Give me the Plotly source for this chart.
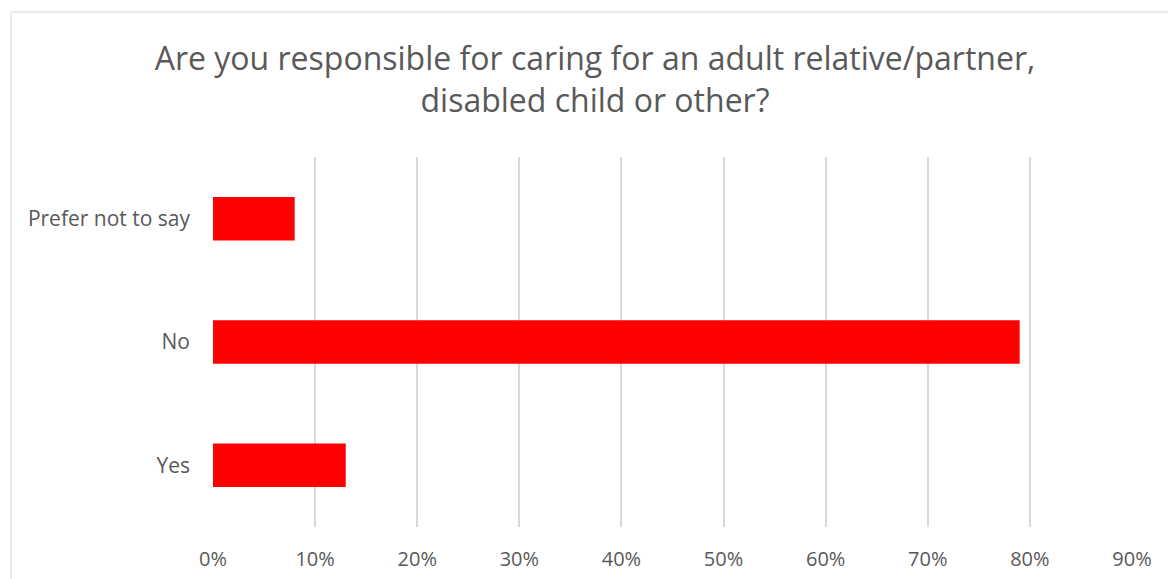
import plotly.graph_objects as go

# Survey responses (share of respondents, %)
categories = ["Yes", "No", "Prefer not to say"]
shares = [13, 79, 8]
tick_values = [0, 10, 20, 30, 40, 50, 60, 70, 80, 90]
tick_labels = ["0%", "10%", "20%", "30%", "40%", "50%", "60%", "70%", "80%", "90%"]

title_text = "Are you responsible for caring for an adult relative/partner,<br>disabled child or other?"

W, H = 1168, 579
ml, mr, mt, mb = 212.5, 36.3, 157, 52
pw = W - ml - mr
ph = H - mt - mb

fig = go.Figure(
    go.Bar(
        x=shares,
        y=categories,
        orientation="h",
        marker=dict(color="#FF0000", line=dict(width=0)),
        hoverinfo="x+y",
    )
)

# light frame around the chart area (right and bottom edges run off the page)
fig.add_shape(
    type="rect", xref="paper", yref="paper",
    x0=(10.5 - ml) / pw, x1=1.2,
    y0=-0.3, y1=(H - mb - 12) / ph,
    line=dict(color="#D9D9D9", width=1),
    fillcolor="rgba(0,0,0,0)", layer="below",
)

fig.update_layout(
    width=W, height=H,
    margin=dict(l=ml, r=mr, t=mt, b=mb, pad=0, autoexpand=False),
    paper_bgcolor="white", plot_bgcolor="white",
    font=dict(family="Open Sans", color="#595959", size=21),
    title=dict(
        text=title_text,
        font=dict(size=32, color="#595959", family="Open Sans"),
        x=595 / W, xanchor="center", xref="container",
        y=1 - 70 / H, yanchor="middle", yref="container",
    ),
    bargap=0.647,
    showlegend=False,
    xaxis=dict(
        range=[0, 90], automargin=False,
        tickmode="array", tickvals=tick_values, ticktext=tick_labels,
        showgrid=True, gridcolor="#D9D9D9", gridwidth=1.5,
        zeroline=False, showline=False, ticks="",
        ticklabelstandoff=18,
        tickfont=dict(size=20, color="#595959"),
    ),
    yaxis=dict(
        categoryorder="array", categoryarray=categories, automargin=False,
        showgrid=False, zeroline=False, showline=False, ticks="",
        ticklabelstandoff=22,
        tickfont=dict(size=21, color="#595959"),
    ),
)

fig.write_html("out.html")
